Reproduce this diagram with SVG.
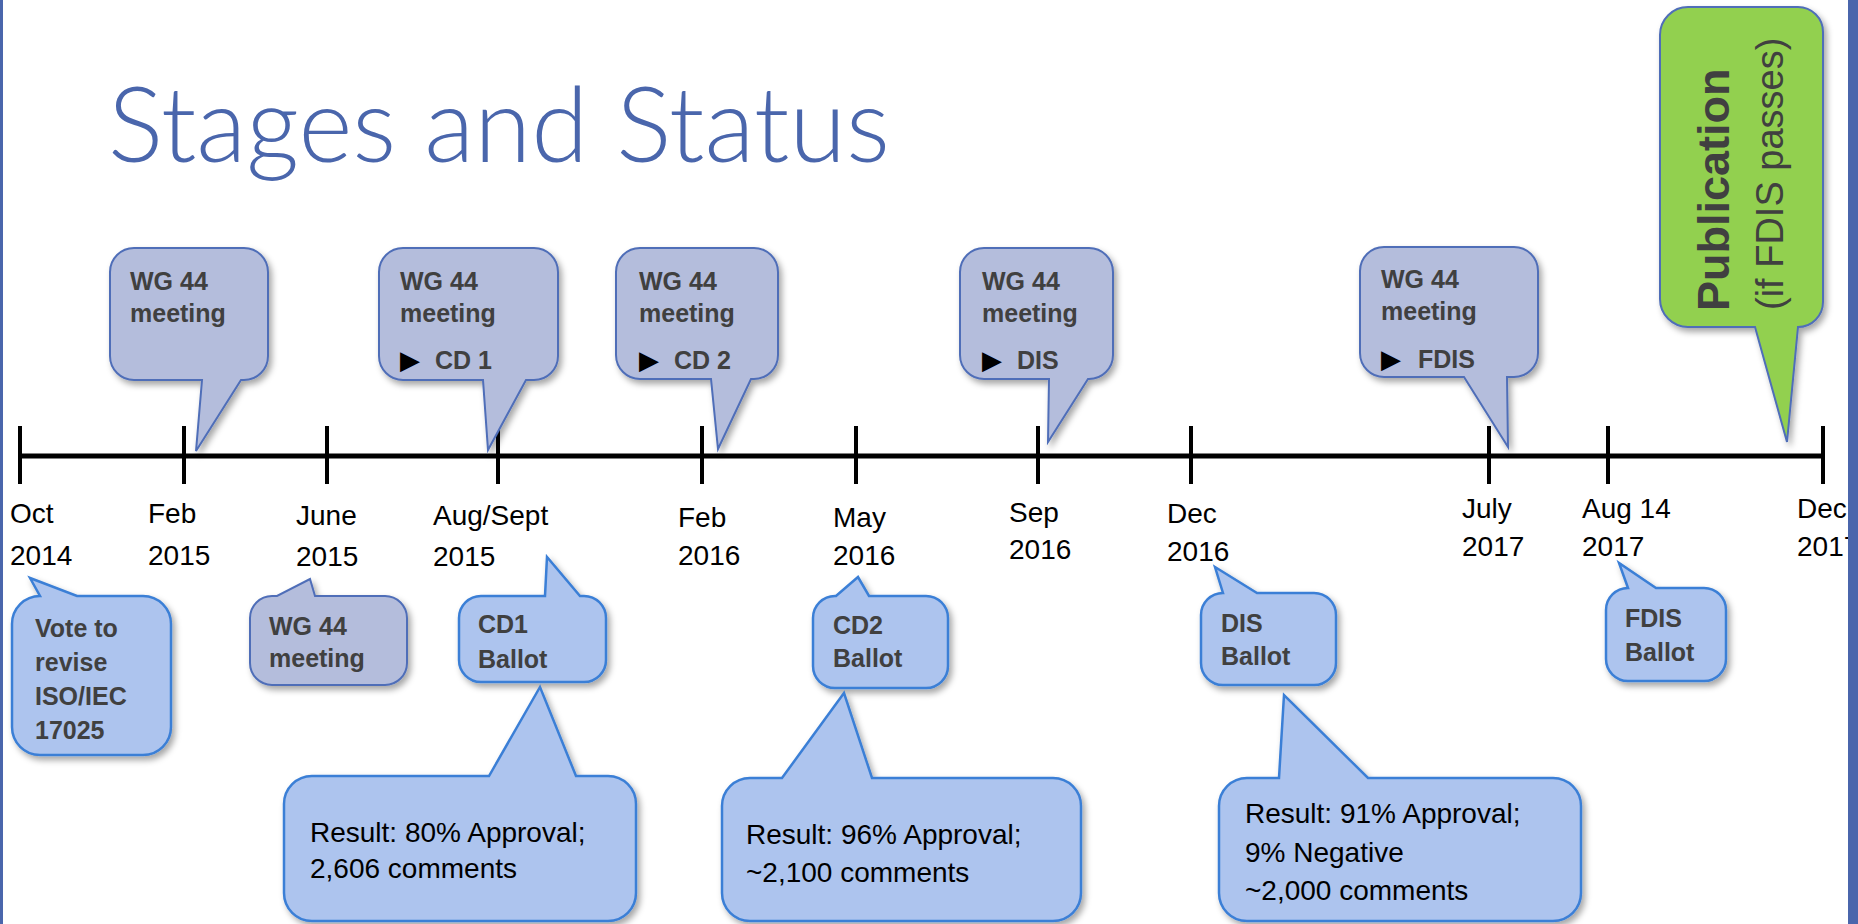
<svg xmlns="http://www.w3.org/2000/svg" width="1858" height="924" viewBox="0 0 1858 924">
<defs>
<filter id="sh" x="-20%" y="-20%" width="140%" height="140%">
<feDropShadow dx="3" dy="4" stdDeviation="3" flood-color="#000" flood-opacity="0.35"/>
</filter>
<style>
.up{fill:#b4bddc;stroke:#4f6eb8;stroke-width:2;filter:url(#sh)}
.lo{fill:#adc4ee;stroke:#3b7fd6;stroke-width:2.5;filter:url(#sh)}
.pub{fill:#92d050;stroke:#4f6eb8;stroke-width:2;filter:url(#sh)}
.bt{font-family:"Liberation Sans",Arial,sans-serif;font-weight:bold;fill:#404040}
.ct{font-size:25px}
.lt{font-size:25px}
.date{font-family:"Liberation Sans",Arial,sans-serif;font-size:28px;fill:#000}
.res{font-family:"Liberation Sans",Arial,sans-serif;font-size:28px;fill:#000}
.tri{font-family:"DejaVu Sans",sans-serif;font-size:26px;fill:#000;font-weight:normal}
.tick{stroke:#000;stroke-width:4}
</style>
</defs>
<rect width="1858" height="924" fill="#fff"/>
<text x="108" y="162" font-family="Lato, Liberation Sans, Arial, sans-serif" font-weight="300" font-size="104" fill="#4a66ac" textLength="782" lengthAdjust="spacingAndGlyphs">Stages and Status</text>

<g id="timeline">
<line x1="20" y1="456" x2="1823" y2="456" stroke="#000" stroke-width="5"/>
<line class="tick" x1="20" y1="426" x2="20" y2="484"/>
<line class="tick" x1="184" y1="426" x2="184" y2="484"/>
<line class="tick" x1="327" y1="426" x2="327" y2="484"/>
<line class="tick" x1="498" y1="426" x2="498" y2="484"/>
<line class="tick" x1="702" y1="426" x2="702" y2="484"/>
<line class="tick" x1="856" y1="426" x2="856" y2="484"/>
<line class="tick" x1="1038" y1="426" x2="1038" y2="484"/>
<line class="tick" x1="1191" y1="426" x2="1191" y2="484"/>
<line class="tick" x1="1489" y1="426" x2="1489" y2="484"/>
<line class="tick" x1="1608" y1="426" x2="1608" y2="484"/>
<line class="tick" x1="1823" y1="426" x2="1823" y2="484"/>
</g>

<g id="dates" class="date">
<text x="10" y="523">Oct</text><text x="10" y="565">2014</text>
<text x="148" y="523">Feb</text><text x="148" y="565">2015</text>
<text x="296" y="525">June</text><text x="296" y="566">2015</text>
<text x="433" y="525">Aug/Sept</text><text x="433" y="566">2015</text>
<text x="678" y="527">Feb</text><text x="678" y="565">2016</text>
<text x="833" y="527">May</text><text x="833" y="565">2016</text>
<text x="1009" y="522">Sep</text><text x="1009" y="559">2016</text>
<text x="1167" y="523">Dec</text><text x="1167" y="561">2016</text>
<text x="1462" y="518">July</text><text x="1462" y="556">2017</text>
<text x="1582" y="518">Aug 14</text><text x="1582" y="556">2017</text>
<text x="1797" y="518">Dec</text><text x="1797" y="556">2017</text>
</g>

<g id="wg-feb2015">
<path class="up" d="M134,248 H244 A24,24 0 0 1 268,272 V356 A24,24 0 0 1 244,380 H241 L196,451 L202,380 H134 A24,24 0 0 1 110,356 V272 A24,24 0 0 1 134,248 Z"/>
<text class="bt ct" x="130" y="290">WG 44</text>
<text class="bt ct" x="130" y="322">meeting</text>
</g>

<g id="wg-cd1">
<path class="up" d="M403,248 H534 A24,24 0 0 1 558,272 V356 A24,24 0 0 1 534,380 H526 L488,450 L483,380 H403 A24,24 0 0 1 379,356 V272 A24,24 0 0 1 403,248 Z"/>
<text class="bt ct" x="400" y="290">WG 44</text>
<text class="bt ct" x="400" y="322">meeting</text>
<text class="bt ct" x="400" y="369"><tspan class="tri">▶</tspan><tspan x="435">CD 1</tspan></text>
</g>

<g id="wg-cd2">
<path class="up" d="M640,248 H754 A24,24 0 0 1 778,272 V355 A24,24 0 0 1 754,379 H751 L718,449 L711,379 H640 A24,24 0 0 1 616,355 V272 A24,24 0 0 1 640,248 Z"/>
<text class="bt ct" x="639" y="290">WG 44</text>
<text class="bt ct" x="639" y="322">meeting</text>
<text class="bt ct" x="639" y="369"><tspan class="tri">▶</tspan><tspan x="674">CD 2</tspan></text>
</g>

<g id="wg-dis">
<path class="up" d="M984,248 H1089 A24,24 0 0 1 1113,272 V355 A24,24 0 0 1 1089,379 H1088 L1048,442 L1049,379 H984 A24,24 0 0 1 960,355 V272 A24,24 0 0 1 984,248 Z"/>
<text class="bt ct" x="982" y="290">WG 44</text>
<text class="bt ct" x="982" y="322">meeting</text>
<text class="bt ct" x="982" y="369"><tspan class="tri">▶</tspan><tspan x="1017">DIS</tspan></text>
</g>

<g id="wg-fdis">
<path class="up" d="M1384,247 H1514 A24,24 0 0 1 1538,271 V353 A24,24 0 0 1 1514,377 H1507 L1508,447 L1464,377 H1384 A24,24 0 0 1 1360,353 V271 A24,24 0 0 1 1384,247 Z"/>
<text class="bt ct" x="1381" y="288">WG 44</text>
<text class="bt ct" x="1381" y="320">meeting</text>
<text class="bt ct" x="1381" y="368"><tspan class="tri">▶</tspan><tspan x="1418">FDIS</tspan></text>
</g>

<g id="publication">
<path class="pub" d="M1688,7 H1798 A25,25 0 0 1 1823,32 V302 A25,25 0 0 1 1798,327 L1787,442 L1755,327 H1688 A28,28 0 0 1 1660,299 V35 A28,28 0 0 1 1688,7 Z"/>
<text class="bt" transform="translate(1729,311) rotate(-90)" style="font-size:45px">Publication</text>
<text transform="translate(1783,310) rotate(-90)" style="font-size:38px;font-family:'Liberation Sans',Arial,sans-serif;fill:#404040">(if FDIS passes)</text>
</g>

<g id="vote">
<path class="lo" d="M12,624 A28,28 0 0 1 40,596 L30,578 L77,596 H143 A28,28 0 0 1 171,624 V727 A28,28 0 0 1 143,755 H40 A28,28 0 0 1 12,727 Z"/>
<text class="bt lt" x="35" y="637">Vote to</text>
<text class="bt lt" x="35" y="671">revise</text>
<text class="bt lt" x="35" y="705">ISO/IEC</text>
<text class="bt lt" x="35" y="739">17025</text>
</g>

<g id="wg-june2015">
<path class="up" d="M272,596 H277 L310,579 L315,596 H385 A22,22 0 0 1 407,618 V663 A22,22 0 0 1 385,685 H272 A22,22 0 0 1 250,663 V618 A22,22 0 0 1 272,596 Z"/>
<text class="bt lt" x="269" y="635">WG 44</text>
<text class="bt lt" x="269" y="667">meeting</text>
</g>

<g id="cd1-ballot">
<path class="lo" d="M481,596 H545 L547,557 L580,596 H584 A22,22 0 0 1 606,618 V660 A22,22 0 0 1 584,682 H481 A22,22 0 0 1 459,660 V618 A22,22 0 0 1 481,596 Z"/>
<text class="bt lt" x="478" y="633">CD1</text>
<text class="bt lt" x="478" y="668">Ballot</text>
</g>

<g id="cd2-ballot">
<path class="lo" d="M835,596 H836 L858,577 L869,596 H926 A22,22 0 0 1 948,618 V666 A22,22 0 0 1 926,688 H835 A22,22 0 0 1 813,666 V618 A22,22 0 0 1 835,596 Z"/>
<text class="bt lt" x="833" y="634">CD2</text>
<text class="bt lt" x="833" y="667">Ballot</text>
</g>

<g id="dis-ballot">
<path class="lo" d="M1223,593 L1215,567 L1257,593 H1314 A22,22 0 0 1 1336,615 V663 A22,22 0 0 1 1314,685 H1223 A22,22 0 0 1 1201,663 V615 A22,22 0 0 1 1223,593 Z"/>
<text class="bt lt" x="1221" y="632">DIS</text>
<text class="bt lt" x="1221" y="665">Ballot</text>
</g>

<g id="fdis-ballot">
<path class="lo" d="M1628,588 L1619,563 L1656,588 H1704 A22,22 0 0 1 1726,610 V659 A22,22 0 0 1 1704,681 H1628 A22,22 0 0 1 1606,659 V610 A22,22 0 0 1 1628,588 Z"/>
<text class="bt lt" x="1625" y="627">FDIS</text>
<text class="bt lt" x="1625" y="661">Ballot</text>
</g>

<g id="result-cd1">
<path class="lo" d="M312,776 H489 L540,687 L576,776 H608 A28,28 0 0 1 636,804 V893 A28,28 0 0 1 608,921 H312 A28,28 0 0 1 284,893 V804 A28,28 0 0 1 312,776 Z"/>
<text class="res" x="310" y="842">Result: 80% Approval;</text>
<text class="res" x="310" y="878">2,606 comments</text>
</g>

<g id="result-cd2">
<path class="lo" d="M750,778 H782 L844,693 L872,778 H1053 A28,28 0 0 1 1081,806 V893 A28,28 0 0 1 1053,921 H750 A28,28 0 0 1 722,893 V806 A28,28 0 0 1 750,778 Z"/>
<text class="res" x="746" y="844">Result: 96% Approval;</text>
<text class="res" x="746" y="882">~2,100 comments</text>
</g>

<g id="result-dis">
<path class="lo" d="M1247,778 H1279 L1284,695 L1368,778 H1553 A28,28 0 0 1 1581,806 V893 A28,28 0 0 1 1553,921 H1247 A28,28 0 0 1 1219,893 V806 A28,28 0 0 1 1247,778 Z"/>
<text class="res" x="1245" y="823">Result: 91% Approval;</text>
<text class="res" x="1245" y="862">9% Negative</text>
<text class="res" x="1245" y="900">~2,000 comments</text>
</g>

<rect x="0" y="0" width="3" height="924" fill="#4a66ac"/>
<rect x="1848" y="0" width="10" height="924" fill="#4a66ac"/>
</svg>
